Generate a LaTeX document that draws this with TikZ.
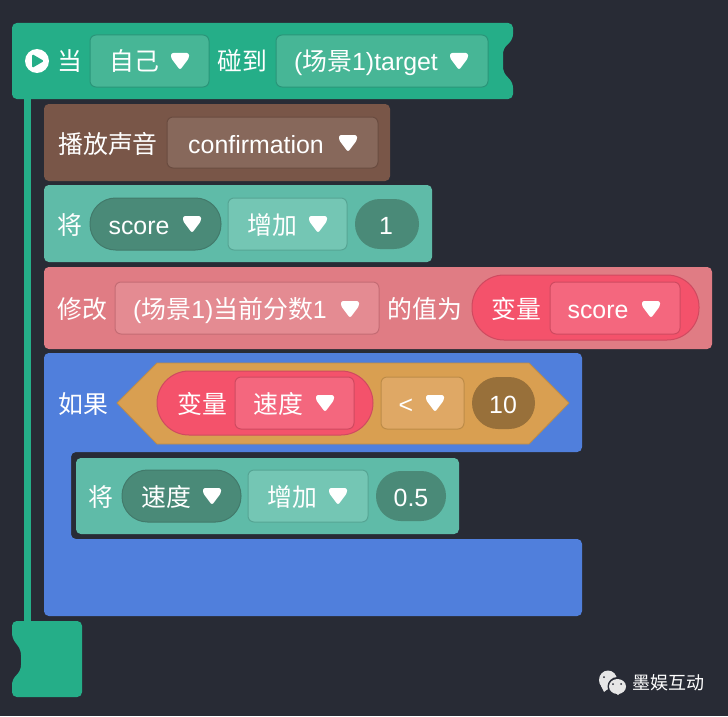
\documentclass[tikz,border=0pt]{standalone}
\usepackage{fontspec}
\setmainfont{Liberation Sans}
\newfontfamily\cjk{Noto Sans CJK SC}
\newcommand{\zh}[1]{{\cjk #1}}
\definecolor{bgdark}{HTML}{282B35}
\definecolor{hatgreen}{HTML}{25AE88}
\definecolor{hatfield}{HTML}{47B696}
\definecolor{hatedge}{HTML}{2A9579}
\definecolor{soundbrown}{HTML}{795648}
\definecolor{soundfield}{HTML}{87685B}
\definecolor{soundedge}{HTML}{6A4C40}
\definecolor{varteal}{HTML}{5FBBA8}
\definecolor{varfield}{HTML}{74C6B4}
\definecolor{varedge}{HTML}{56A594}
\definecolor{varpill}{HTML}{4A8A78}
\definecolor{pilledge}{HTML}{427A6B}
\definecolor{setpink}{HTML}{E07C84}
\definecolor{setfield}{HTML}{E48B92}
\definecolor{setedge}{HTML}{C46C74}
\definecolor{redpill}{HTML}{F4526B}
\definecolor{redfield}{HTML}{F4677E}
\definecolor{rededge}{HTML}{CF4A60}
\definecolor{ifblue}{HTML}{507FDC}
\definecolor{hexorange}{HTML}{D99F51}
\definecolor{hexfield}{HTML}{DFA865}
\definecolor{hexedge}{HTML}{BD8C48}
\definecolor{hexpill}{HTML}{98703A}
\definecolor{markgray}{HTML}{E6E6E6}
\tikzset{
	lbl/.style={text=white, inner sep=0pt, text height=15pt, text depth=2pt, font=\fontsize{17.7pt}{20pt}\selectfont},
	block/.style={fill=#1, rounded corners=1.2mm},
	fieldbox/.style 2 args={fill=#1, draw=#2, line width=0.25mm, rounded corners=1.5mm},
	pillbox/.style 2 args={fill=#1, draw=#2, line width=0.25mm, rounded corners=6.4mm},
	droptip/.pic={\fill[white, rounded corners=1.6pt] (-9,-8) -- (9,-8) -- (9,-3) -- (0,9) -- (-9,-3) -- cycle;}
}
\begin{document}
\begin{tikzpicture}[x=0.25mm, y=-0.25mm, line join=round]
	\fill[bgdark] (0,0) rectangle (728,716);
	\useasboundingbox (0,0) rectangle (728,716);
	
	% event block, spine and end cap
	\fill[hatgreen] (24,95) rectangle (31,625);
	\fill[block=hatgreen] (12,23) -- (513,23) -- (513,39) -- (503,49) -- (503,72) -- (513,83) -- (513,99) -- (12,99) -- cycle;
	\fill[block=hatgreen] (12,621) -- (82,621) -- (82,697) -- (12,697) -- (12,680) -- (21,670) -- (21,650) -- (12,638) -- cycle;
	
	% stacked blocks
	\fill[block=soundbrown] (44,104) rectangle (390,181);
	\fill[block=varteal] (44,185) rectangle (432,262);
	\fill[block=setpink] (44,267) rectangle (712,349);
	\fill[block=ifblue] (44,353) -- (582,353) -- (582,452) -- (71,452) -- (71,539) -- (582,539) -- (582,616) -- (44,616) -- cycle;
	\fill[block=varteal] (76,458) rectangle (459,534);
	
	% condition hexagon
	\draw[fill=hexorange, draw=hexedge, line width=0.2mm] (117,403) -- (157,363) -- (529,363) -- (569,403) -- (529,444) -- (157,444) -- cycle;
	
	% pills
	\draw[pillbox={varpill}{pilledge}] (90,198) rectangle (221,250);
	\fill[varpill, rounded corners=6.2mm] (355,199) rectangle (419,249);
	\draw[pillbox={redpill}{rededge}, rounded corners=8mm] (472,275) rectangle (699,340);
	\draw[pillbox={redpill}{rededge}, rounded corners=8mm] (157,371) rectangle (373,435);
	\fill[hexpill, rounded corners=6.5mm] (472,377) rectangle (535,429);
	\draw[pillbox={varpill}{pilledge}] (122,470) rectangle (241,522);
	\fill[varpill, rounded corners=6.2mm] (376,471) rectangle (446,521);
	
	% drop-down fields
	\draw[fieldbox={hatfield}{hatedge}] (90,35) rectangle (209,87);
	\draw[fieldbox={hatfield}{hatedge}] (276,35) rectangle (488,87);
	\draw[fieldbox={soundfield}{soundedge}] (167,117) rectangle (378,168);
	\draw[fieldbox={varfield}{varedge}] (228,198) rectangle (347,250);
	\draw[fieldbox={setfield}{setedge}] (115,282) rectangle (379,334);
	\draw[fieldbox={redfield}{rededge}] (550,282) rectangle (680,334);
	\draw[fieldbox={redfield}{rededge}] (235,377) rectangle (354,429);
	\draw[fieldbox={hexfield}{hexedge}] (381,377) rectangle (464,429);
	\draw[fieldbox={varfield}{varedge}] (248,470) rectangle (368,522);
	
	% play mark
	\fill[white] (37,61) circle (12);
	\fill[hatgreen, rounded corners=1pt] (32,54) -- (44,61) -- (32,68) -- cycle;
	
	\foreach \x/\y in {180/61, 459/61, 348/143, 192/224, 318/224, 350/309, 651/309, 325/403, 435/403, 212/496, 338/496} {
		\pic at (\x,\y) {droptip};
	}
	
	\foreach \p/\x/\y/\t in {
		dang/70/61/\zh{当}, self/134/61/\zh{自己}, touch/242/61/\zh{碰到}, target/366/61/(\zh{场景}1)target,
		play/108/144/\zh{播放声音}, sound/256/144/confirmation,
		jiang/70/225/\zh{将}, score/139/225/score, incr/272/225/\zh{增加}, one/386/225/1,
		edit/82/309/\zh{修改}, curr/230/309/(\zh{场景}1)\zh{当前分数}1, valueis/425/309/\zh{的值为}, varname/516/309/\zh{变量}, varscore/598/309/score,
		ifword/83/404/\zh{如果}, varword/202/404/\zh{变量}, speed/278/404/\zh{速度}, less/406/404/<, ten/503/404/10,
		jiangb/101/497/\zh{将}, speedb/166/497/\zh{速度}, incrb/292/497/\zh{增加}, half/411/497/0.5%
	} {
		\node[lbl] (\p) at (\x,\y) {\t};
	}
	
	% watermark
	\fill[markgray] (608,680) ellipse (9 and 9.5);
	\fill[markgray] (601,686) -- (604,692) -- (609,688) -- cycle;
	\fill[bgdark] (617.5,686.5) ellipse (10 and 9.5);
	\fill[markgray] (617.5,686.5) ellipse (8.5 and 7.5);
	\fill[markgray] (615,692) -- (618,695) -- (621,692) -- cycle;
	\foreach \x/\y in {604/677, 613/684, 621/684} {
		\fill[bgdark] (\x,\y) circle (1);
	}
	\node[text=white, inner sep=0pt, font=\cjk\fontsize{12.8pt}{14pt}\selectfont] (mark) at (668,683) {墨娱互动};
\end{tikzpicture}
\end{document}
